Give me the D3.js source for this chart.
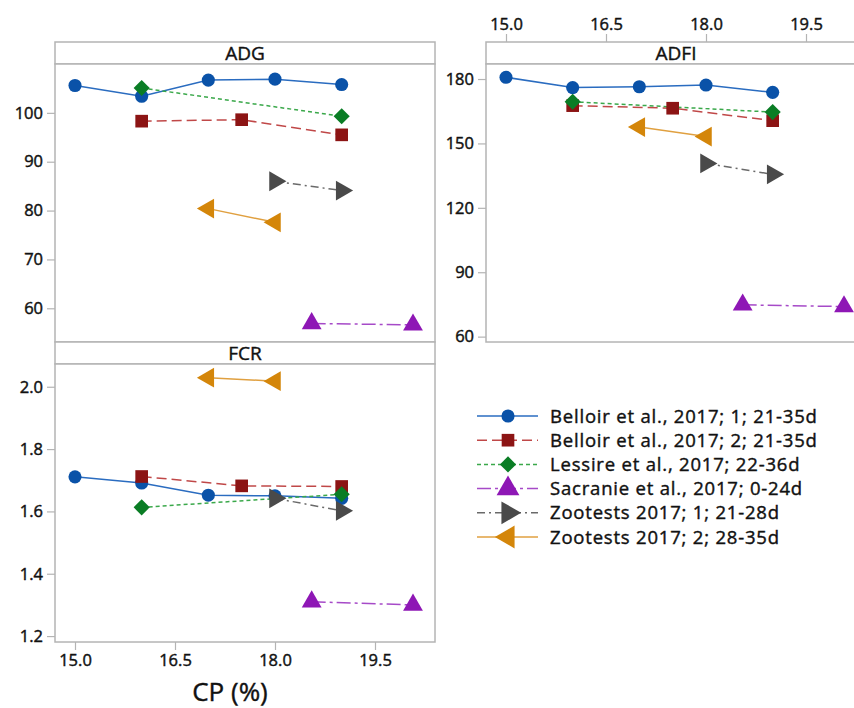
<!DOCTYPE html>
<html><head><meta charset="utf-8">
<script src="https://cdn.jsdelivr.net/npm/d3@7"></script>
<style>body{margin:0;background:#fff}svg{display:block}text{font-family:"Open Sans",sans-serif;fill:#111}</style>
</head><body><svg id="c" width="854" height="708"></svg>
<script>
const seriesNames = ["Belloir et al., 2017; 1; 21-35d","Belloir et al., 2017; 2; 21-35d","Lessire et al., 2017; 22-36d","Sacranie et al., 2017; 0-24d","Zootests 2017; 1; 21-28d","Zootests 2017; 2; 28-35d"];
const seriesCP = [[15,16,17,18,19],[16,17.5,19],[16,19],[18.55,20.07],[18,19],[17,18]];
const adgValues = [[105.6,103.4,106.7,106.9,105.8],[98.3,98.6,95.5],[105.1,99.3],[56.9,56.6],[86.0,84.1],[80.4,77.6]];
const adfiValues = [[180.8,176.0,176.4,177.2,173.8],[167.6,166.4,160.6],[169.4,164.6],[74.8,74.0],[140.7,135.6],[157.6,153.2]];
const fcrValues = [[1.711,1.691,1.652,1.650,1.642],[1.712,1.682,1.680],[1.613,1.655],[1.310,1.300],[1.642,1.602],[2.029,2.018]];
const xTicks = [15.0,16.5,18.0,19.5];
const adgTicks = [60,70,80,90,100];
const adfiTicks = [60,90,120,150,180];
const fcrTicks = [1.2,1.4,1.6,1.8,2.0];

const markerColors = ["#0a52a8","#8c1414","#0a7d25","#8e17b5","#4a4a4a","#d4860a"];
const lineColors = ["#2a6cc0","#c04848","#3aa84a","#a64ac8","#6a6a6a","#e0a040"];
const dashes = [null,"10,5","4,3","14,4,3,4","8,4,2,4",null];
const shapes = ["circle","square","diamond","tri-up","tri-right","tri-left"];

const svg = d3.select("#c");
const frameCol = "#b4b4b4";
const tickFont = 16.5;

function markerPath(shape, scale){
  const s = scale||1;
  if(shape==="circle") return {d:d3.symbol(d3.symbolCircle, 135*s*s)(), rot:0};
  if(shape==="square") return {d:d3.symbol(d3.symbolSquare, 160*s*s)(), rot:0};
  if(shape==="diamond") return {d:d3.symbol(d3.symbolSquare, 130*s*s)(), rot:45};
  const tri = d3.symbol(d3.symbolTriangle, 170*s*s)();
  if(shape==="tri-up") return {d:tri, rot:0};
  if(shape==="tri-right") return {d:tri, rot:90};
  return {d:tri, rot:-90};
}

function heavy(sel, w){
  sel.attr("stroke","#111").attr("stroke-width",w).attr("paint-order","stroke");
}

function styleTicks(sel){
  const t = sel.selectAll("text").attr("font-size",tickFont).attr("fill","#111")
    .style("font-family","'Open Sans',sans-serif");
  heavy(t,0.45);
}

function drawPanel(o){
  const g = svg.append("g");
  const x = d3.scaleLinear().domain([14.7,20.4]).range([o.left, o.left+380]);
  const y = d3.scaleLinear().domain(o.domain).range([o.bottom, o.top]);
  g.append("rect").attr("x",o.left).attr("y",o.stripTop).attr("width",380).attr("height",o.top-o.stripTop)
    .attr("fill","#fff").attr("stroke",frameCol).attr("stroke-width",1.5);
  heavy(g.append("text").attr("x",o.left+190).attr("y",(o.stripTop+o.top)/2+7).attr("text-anchor","middle")
    .attr("font-size",19).text(o.title),0.4);
  g.append("rect").attr("x",o.left).attr("y",o.top).attr("width",380).attr("height",o.bottom-o.top)
    .attr("fill","#fff").attr("stroke",frameCol).attr("stroke-width",1.5);
  const ya = d3.axisLeft(y).tickValues(o.ticks).tickSize(8).tickPadding(4).tickFormat(o.fmt);
  const yg = g.append("g").attr("transform",`translate(${o.left},0)`).call(ya);
  yg.select(".domain").remove();
  yg.selectAll("line").attr("stroke",frameCol).attr("stroke-width",1.2);
  styleTicks(yg);
  if(o.xAxis){
    const xa = (o.xAxis==="top"? d3.axisTop(x): d3.axisBottom(x)).tickValues(xTicks).tickSize(8).tickPadding(4).tickFormat(d3.format(".1f"));
    const xg = g.append("g").attr("transform",`translate(0,${o.xAxis==="top"?o.stripTop:o.bottom})`).call(xa);
    xg.select(".domain").remove();
    xg.selectAll("line").attr("stroke",frameCol).attr("stroke-width",1.2);
    styleTicks(xg);
  }
  const line = d3.line().x(d=>x(d[0])).y(d=>y(d[1]));
  o.values.forEach((vals,i)=>{
    const pts = seriesCP[i].map((c,j)=>[c,vals[j]]);
    g.append("path").attr("d",line(pts)).attr("fill","none").attr("stroke",lineColors[i])
      .attr("stroke-width",1.5).attr("stroke-dasharray",dashes[i]);
  });
  o.values.forEach((vals,i)=>{
    const m = markerPath(shapes[i]);
    seriesCP[i].forEach((c,j)=>{
      g.append("path").attr("d",m.d).attr("fill",markerColors[i])
        .attr("transform",`translate(${x(c)},${y(vals[j])}) rotate(${m.rot})`);
    });
  });
}

drawPanel({title:"ADG",left:55,stripTop:42,top:64,bottom:342,domain:[53.1,110],ticks:adgTicks,fmt:d3.format("d"),values:adgValues});
drawPanel({title:"FCR",left:55,stripTop:342,top:364,bottom:642,domain:[1.181,2.073],ticks:fcrTicks,fmt:d3.format(".1f"),values:fcrValues,xAxis:"bottom"});
drawPanel({title:"ADFI",left:486,stripTop:42,top:64,bottom:342,domain:[57.5,187],ticks:adfiTicks,fmt:d3.format("d"),values:adfiValues,xAxis:"top"});

heavy(svg.append("text").attr("x",230).attr("y",701).attr("text-anchor","middle").attr("font-size",26).text("CP (%)"),0.4);

const leg = svg.append("g");
seriesNames.forEach((name,i)=>{
  const yy = 416 + i*24.2;
  leg.append("line").attr("x1",477).attr("x2",538).attr("y1",yy).attr("y2",yy)
    .attr("stroke",lineColors[i]).attr("stroke-width",1.5).attr("stroke-dasharray",dashes[i]);
  const m = markerPath(shapes[i], i>=3?1.15:1.0);
  leg.append("path").attr("d",m.d).attr("fill",markerColors[i])
    .attr("transform",`translate(508,${yy}) rotate(${m.rot})`);
  heavy(leg.append("text").attr("x",550).attr("y",yy+6.5).attr("font-size",18.5)
    .attr("letter-spacing",0.8).text(name),0.4);
});
</script></body></html>
